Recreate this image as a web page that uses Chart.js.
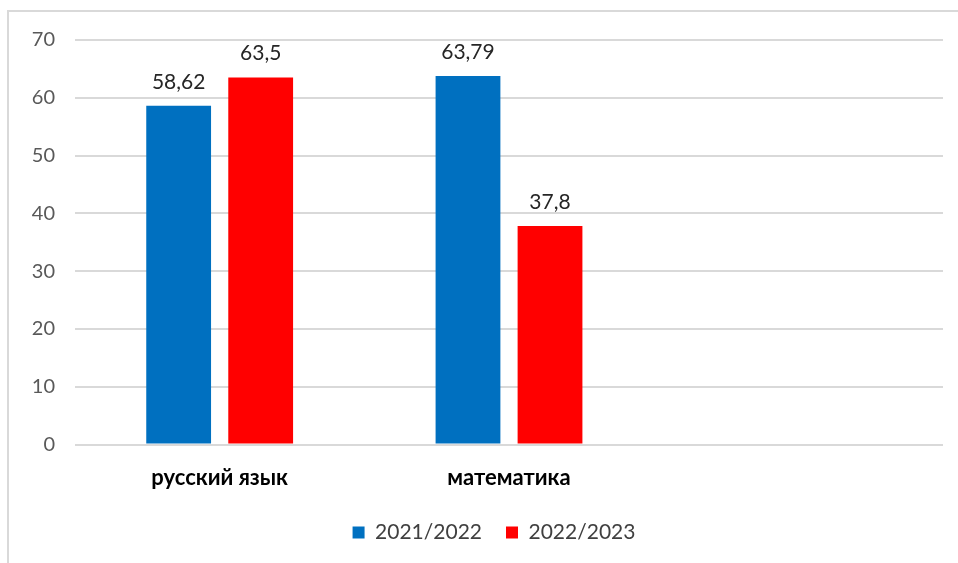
<!DOCTYPE html>
<html>
<head>
<meta charset="utf-8">
<script src="https://cdn.jsdelivr.net/npm/chart.js@4.4.0/dist/chart.umd.min.js"></script>
<style>
    html, body { margin: 0; padding: 0; background: #fff; overflow: hidden; }
    #frame { position: absolute; left: 7px; top: 10px; width: 1000px; height: 600px;
             border-left: 2px solid #d9d9d9; border-top: 2px solid #d9d9d9; }
    #wrap { position: absolute; left: 0; top: 0; width: 958px; height: 563px; }
</style>
</head>
<body>
<div id="frame"></div>
<div id="wrap"><canvas id="chart"></canvas></div>
<script>
const subjects = ["русский язык", "математика", ""];
const year2122 = [58.62, 63.79, null];
const year2223 = [63.5, 37.8, null];
const seriesNames = ["2021/2022", "2022/2023"];
const yTicks = [0, 10, 20, 30, 40, 50, 60, 70];

const FONT = "Lato, 'Liberation Sans', sans-serif";

// value labels above each bar, comma as decimal separator
const valueLabels = {
    id: "valueLabels",
    afterDatasetsDraw(chart) {
        const ctx = chart.ctx;
        ctx.save();
        ctx.font = "21px " + FONT;
        ctx.fillStyle = "#262626";
        ctx.textAlign = "center";
        ctx.textBaseline = "middle";
        chart.data.datasets.forEach((ds, i) => {
            chart.getDatasetMeta(i).data.forEach((bar, j) => {
                const v = ds.data[j];
                if (v == null) return;
                ctx.fillText(String(v).replace(".", ","), bar.x, bar.y - 24);
            });
        });
        ctx.restore();
    }
};

new Chart(document.getElementById("chart"), {
    type: "bar",
    data: {
        labels: subjects,
        datasets: [
            { label: seriesNames[0], data: year2122, backgroundColor: "#0070c0" },
            { label: seriesNames[1], data: year2223, backgroundColor: "#ff0000" }
        ]
    },
    options: {
        responsive: true,
        maintainAspectRatio: false,
        animation: false,
        categoryPercentage: 0.567,
        barPercentage: 0.79,
        layout: { padding: { left: 30, right: 0, top: 40, bottom: 10 } },
        plugins: {
            legend: {
                position: "bottom",
                labels: {
                    boxWidth: 12,
                    boxHeight: 12,
                    padding: 24,
                    color: "#404040",
                    font: { family: FONT, size: 21 }
                }
            },
            tooltip: { enabled: false }
        },
        scales: {
            x: {
                afterFit: s => { s.height -= 13; },
                grid: { display: false, drawTicks: false },
                border: { display: false },
                ticks: {
                    color: "#000",
                    padding: 20,
                    font: { family: FONT, size: 22, weight: "bold" }
                }
            },
            y: {
                min: 0,
                max: 70,
                afterBuildTicks: s => { s.ticks = yTicks.map(v => ({ value: v })); },
                afterFit: s => { s.width = 45; },
                grid: { color: "#d9d9d9", lineWidth: 2, drawTicks: false },
                border: { display: false },
                ticks: {
                    color: "#595959",
                    padding: 20,
                    font: { family: FONT, size: 20 }
                }
            },
            y2: {
                position: "right",
                display: true,
                afterFit: s => { s.width = 15; },
                grid: { display: false },
                border: { display: false },
                ticks: { display: false }
            }
        }
    },
    plugins: [valueLabels]
});
</script>
</body>
</html>
